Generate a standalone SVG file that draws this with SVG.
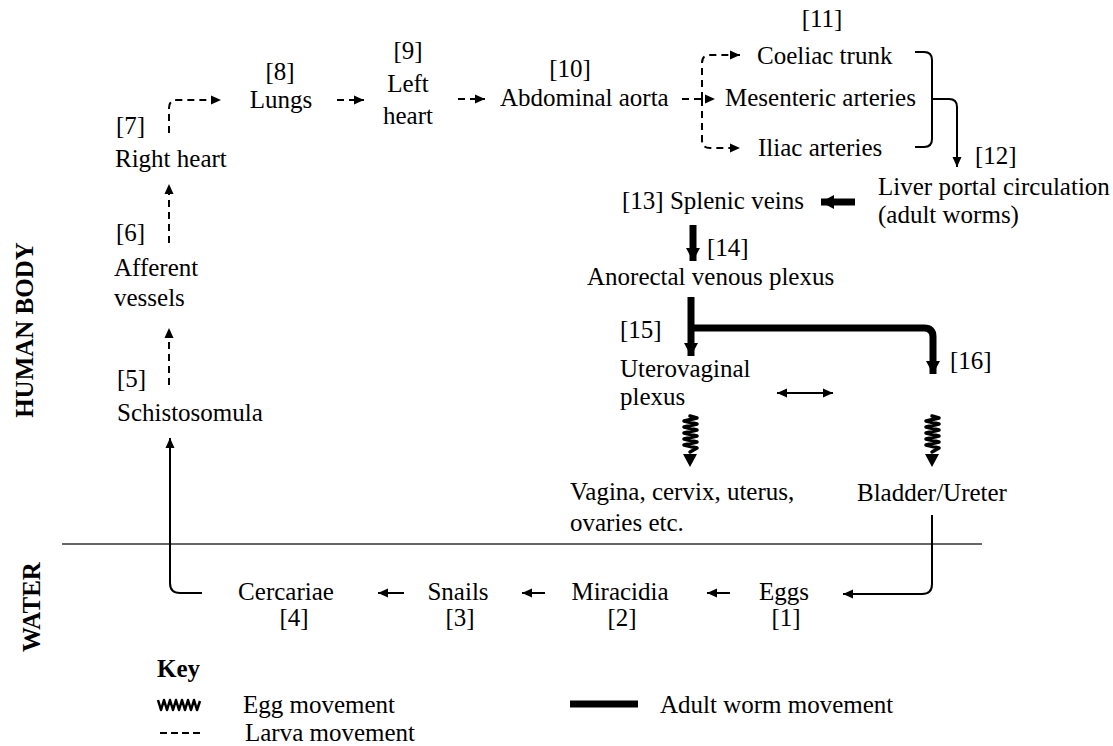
<svg xmlns="http://www.w3.org/2000/svg" width="1113" height="746" viewBox="0 0 1113 746" font-family="'Liberation Serif', 'Times New Roman', Times, 'DejaVu Serif', serif">
<style>
text{font-family:'Liberation Serif','Times New Roman',Times,'DejaVu Serif',serif;font-size:25px;fill:#000}
.b{font-weight:bold}
.m{text-anchor:middle}
.d{fill:none;stroke:#000;stroke-width:2;stroke-dasharray:7 5}
.s{fill:none;stroke:#000;stroke-width:2}
.t{fill:none;stroke:#000;stroke-width:7}
.w{fill:none;stroke:#000;stroke-width:3.5;stroke-linejoin:round;stroke-linecap:round}
</style>
<defs>
<marker id="a" markerUnits="userSpaceOnUse" markerWidth="12" markerHeight="10" refX="10" refY="5" orient="auto"><path d="M0,0.5 L10,5 L0,9.5 Z" fill="#000"/></marker>
<marker id="as" markerUnits="userSpaceOnUse" markerWidth="12" markerHeight="10" refX="10" refY="5" orient="auto-start-reverse"><path d="M0,0.5 L10,5 L0,9.5 Z" fill="#000"/></marker>
<marker id="at" markerUnits="userSpaceOnUse" markerWidth="16" markerHeight="16" refX="13" refY="8" orient="auto"><path d="M0,1 L13,8 L0,15 Z" fill="#000"/></marker>
</defs>
<rect width="1113" height="746" fill="#fff"/>
<line x1="62" y1="544" x2="982" y2="544" stroke="#333" stroke-width="1.5"/>
<g id="connectors">
<path class="d" d="M169,385 V328" marker-end="url(#a)"/>
<path class="d" d="M169,243 V184" marker-end="url(#a)"/>
<path class="d" d="M169,133 V108 Q169,100 177,100 H221" marker-end="url(#a)"/>
<path class="d" d="M337,100 H364" marker-end="url(#a)"/>
<path class="d" d="M458,99 H485" marker-end="url(#a)"/>
<path class="d" d="M682,99 H715" marker-end="url(#a)"/>
<path class="d" d="M702,99 V63 Q702,55 710,55 H740" marker-end="url(#a)"/>
<path class="d" d="M702,99 V140 Q702,148 710,148 H740" marker-end="url(#a)"/>
<path class="s" d="M915,52 H924 Q932,52 932,60 V139 Q932,147 924,147 H915"/>
<path class="s" d="M932,99 H949 Q957,99 957,107 V167" marker-end="url(#a)"/>
<path class="t" d="M855,202 H821" marker-end="url(#at)"/>
<path class="t" d="M693,225 V261" marker-end="url(#at)"/>
<path class="t" d="M691,297 V356" marker-end="url(#at)"/>
<path class="t" d="M691,328 H924 Q933,328 933,337 V374" marker-end="url(#at)"/>
<path class="s" d="M777,393 H833" marker-start="url(#as)" marker-end="url(#as)"/>
<polyline class="w" points="690,416 697,418 684,421 697,424 684,427 697,430 684,433 697,436 684,439 697,442 684,445 697,448 690,452"/>
<path d="M683,454 L697,454 L690,467 Z" fill="#000"/>
<polyline class="w" points="932,416 939,418 926,421 939,424 926,427 939,430 926,433 939,436 926,439 939,442 926,445 939,448 932,452"/>
<path d="M925,454 L939,454 L932,467 Z" fill="#000"/>
<path class="s" d="M932,515 V584 Q932,594 922,594 H843" marker-end="url(#a)"/>
<path class="s" d="M404,593 H378" marker-end="url(#a)"/>
<path class="s" d="M545,593 H522" marker-end="url(#a)"/>
<path class="s" d="M730,593 H707" marker-end="url(#a)"/>
<path class="s" d="M202,593 H180 Q170,593 170,583 V438" marker-end="url(#a)"/>
</g>
<g id="n11"><text class="m" x="822" y="27">[11]</text></g>
<g id="coeliac"><text x="757" y="64">Coeliac trunk</text></g>
<g id="mesenteric"><text x="725" y="106">Mesenteric arteries</text></g>
<g id="iliac"><text x="758" y="156">Iliac arteries</text></g>
<g id="n10"><text class="m" x="570" y="77">[10]</text><text x="500" y="106">Abdominal aorta</text></g>
<g id="n9"><text class="m" x="408" y="59">[9]</text><text class="m" x="408" y="92">Left</text><text class="m" x="408" y="124">heart</text></g>
<g id="n8"><text class="m" x="280" y="80">[8]</text><text class="m" x="281" y="108">Lungs</text></g>
<g id="n7"><text x="116" y="134">[7]</text><text x="115" y="167">Right heart</text></g>
<g id="n6"><text x="116" y="241">[6]</text><text x="114" y="276">Afferent</text><text x="114" y="306">vessels</text></g>
<g id="n5"><text x="117" y="387">[5]</text><text x="117" y="421">Schistosomula</text></g>
<g id="n12"><text x="975" y="164">[12]</text><text x="878" y="195">Liver portal circulation</text><text x="878" y="223">(adult worms)</text></g>
<g id="n13"><text x="622" y="209">[13] Splenic veins</text></g>
<g id="n14"><text x="707" y="256">[14]</text><text x="587" y="285">Anorectal venous plexus</text></g>
<g id="n15"><text x="620" y="338">[15]</text><text x="620" y="377">Uterovaginal</text><text x="620" y="405">plexus</text></g>
<g id="n16"><text x="950" y="369">[16]</text></g>
<g id="vagina"><text x="570" y="500">Vagina, cervix, uterus,</text><text x="570" y="531">ovaries etc.</text></g>
<g id="bladder"><text x="857" y="501">Bladder/Ureter</text></g>
<g id="n4"><text class="m" x="286" y="600">Cercariae</text><text class="m" x="294" y="626">[4]</text></g>
<g id="n3"><text class="m" x="458" y="600">Snails</text><text class="m" x="460" y="626">[3]</text></g>
<g id="n2"><text class="m" x="620" y="600">Miracidia</text><text class="m" x="622" y="626">[2]</text></g>
<g id="n1"><text class="m" x="784" y="600">Eggs</text><text class="m" x="786" y="626">[1]</text></g>
<g id="labels">
<text class="b m" transform="translate(33,330) rotate(-90)">HUMAN BODY</text>
<text class="b m" transform="translate(40,607) rotate(-90)">WATER</text>
</g>
<g id="key">
<text class="b" x="157" y="677">Key</text>
<polyline fill="none" stroke="#000" stroke-width="2.5" stroke-linejoin="round" points="158,700 161,710 164,700 167,710 170,700 173,710 176,700 179,710 182,700 185,710 188,700 191,710 194,700 197,710 200,701"/>
<text x="243" y="713">Egg movement</text>
<line x1="570" y1="704" x2="638" y2="704" stroke="#000" stroke-width="7"/>
<text x="660" y="713">Adult worm movement</text>
<line x1="160" y1="733" x2="200" y2="733" stroke="#000" stroke-width="2" stroke-dasharray="7 4"/>
<text x="245" y="741">Larva movement</text>
</g>
</svg>
